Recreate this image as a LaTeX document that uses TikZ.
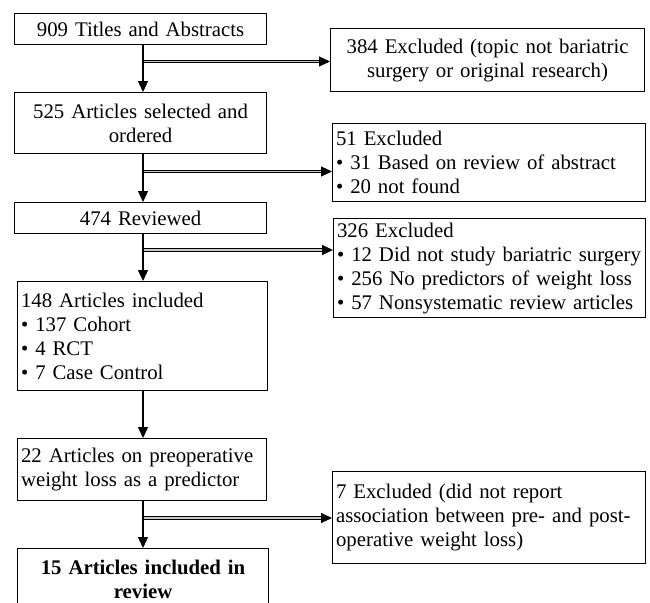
\documentclass[tikz,border=0pt]{standalone}
\usepackage{fontspec}
\setmainfont{Liberation Serif}
\usetikzlibrary{arrows.meta}
\begin{document}
\begin{tikzpicture}[x=1pt,y=-1pt,
  box/.style={draw, line width=1.1pt, inner xsep=3.5pt, inner ysep=0pt, anchor=north west,
              font=\fontsize{20.8pt}{24pt}\selectfont},
  cbox/.style={box, align=center},
  lbox/.style={box, align=left},
  vline/.style={line width=1.3pt, -{Triangle[length=11pt,width=10pt]}},
  dline/.style={double=gray!45, double distance=1.6pt, line width=0.9pt,
                -{Triangle[length=11pt,width=10pt]}}]
\clip (0,0) rectangle (650,602);
% main column
\node[cbox, text width=245pt, minimum height=31pt] (b1) at (14,13) {909 Titles and Abstracts};
\node[cbox, text width=245pt, minimum height=61pt] (b2) at (14,92) {525 Articles selected and\\ordered};
\node[cbox, text width=245pt, minimum height=31pt] (b3) at (14,202) {474 Reviewed};
\node[lbox, text width=243pt, minimum height=109pt] (b4) at (17,281) {148 Articles included\\• 137 Cohort\\• 4 RCT\\• 7 Case Control};
\node[lbox, text width=242pt, minimum height=62pt] (b5) at (17,438) {22 Articles on preoperative\\weight loss as a predictor};
\node[cbox, text width=244pt, minimum height=62pt, font=\fontsize{20.8pt}{24pt}\selectfont\bfseries] (b6) at (17,548) {15 Articles included in\\review};
% exclusion column
\node[cbox, text width=307pt, minimum height=63pt] (e1) at (330,28) {384 Excluded (topic not bariatric\\surgery or original research)};
\node[lbox, text width=306pt, minimum height=78pt] (e2) at (332,123) {51 Excluded\\• 31 Based on review of abstract\\• 20 not found};
\node[lbox, text width=305pt, minimum height=99pt] (e3) at (333,218) {326 Excluded\\• 12 Did not study bariatric surgery\\• 256 No predictors of weight loss\\• 57 Nonsystematic review articles};
\node[lbox, text width=306pt, minimum height=92pt] (e4) at (332,471) {7 Excluded (did not report\\association between pre- and post-\\operative weight loss)};
% junctions
\coordinate (vx) at (143,0);
\coordinate (j1) at (143,61.5);
\coordinate (j2) at (143,171.5);
\coordinate (j3) at (143,250);
\coordinate (j4) at (143,518);
% exclusion arrows
\draw[dline] (j1) -- (e1.west |- j1);
\draw[dline] (j2) -- (e2.west |- j2);
\draw[dline] (j3) -- (e3.west |- j3);
\draw[dline] (j4) -- (e4.west |- j4);
% main flow arrows
\draw[vline] (b1.south -| vx) -- (b2.north -| vx);
\draw[vline] (b2.south -| vx) -- (b3.north -| vx);
\draw[vline] (b3.south -| vx) -- (b4.north -| vx);
\draw[vline] (b4.south -| vx) -- (b5.north -| vx);
\draw[vline] (b5.south -| vx) -- (b6.north -| vx);
\end{tikzpicture}
\end{document}
